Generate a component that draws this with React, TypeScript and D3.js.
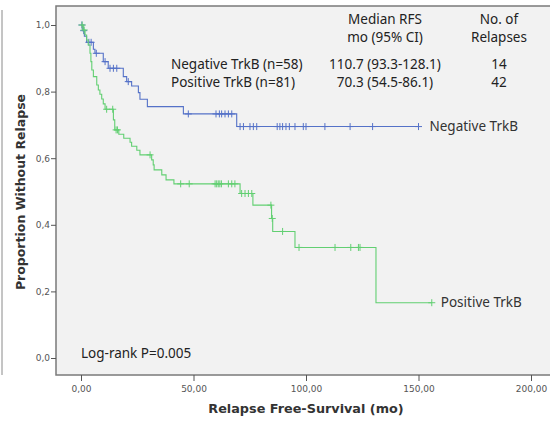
import React, { useEffect, useRef } from "react";
import * as d3 from "d3";

// Kaplan-Meier steps: time (mo) of each drop and survival after it
const negStepTimes = [0.8, 1.5, 2.5, 5.5, 6.2, 9.9, 12.1, 18.8, 20.3, 22.5, 25.5, 26.2, 29.5, 45.5, 69.2];
const negStepSurv = [0.983, 0.966, 0.948, 0.927, 0.915, 0.89, 0.87, 0.845, 0.83, 0.817, 0.797, 0.777, 0.755, 0.733, 0.695];
const negEnd = 150;
const negCensor = [0.4, 1.2, 3.5, 4.5, 6.8, 10.7, 12.9, 14.4, 15.9, 21, 47.7, 60, 61.5, 62.5, 64, 65.5, 67,
  70.7, 72.2, 75.1, 76.6, 78.1, 87.2, 88.4, 89.6, 91.1, 92.6, 95.1, 98.8, 100, 108.4, 119.6, 129.6, 150];

const posStepTimes = [1, 1.8, 2.5, 3.2, 4, 4.4, 4.8, 5.5, 7, 7.7, 8.4, 9.2, 9.9, 10.7, 14.4, 15, 16.8, 19, 21.8,
  22.5, 24.8, 26.2, 31.4, 32.1, 32.5, 35.9, 37.8, 41.3, 70.7, 76.4, 84.7, 85.2, 95.1, 131.1];
const posStepSurv = [0.985, 0.97, 0.955, 0.94, 0.915, 0.89, 0.865, 0.845, 0.82, 0.805, 0.792, 0.778, 0.763, 0.747,
  0.715, 0.685, 0.672, 0.66, 0.648, 0.636, 0.624, 0.61, 0.595, 0.58, 0.565, 0.55, 0.535, 0.523, 0.494, 0.459,
  0.419, 0.38, 0.332, 0.166];
const posEnd = 155.9;
const posCensor = [0.5, 1.4, 11.4, 14.1, 15.6, 16.2, 30.7, 44.3, 48.1, 59.6, 60.3, 61, 61.7, 62.4, 65.5, 67, 68.4,
  71.4, 72.9, 74.4, 75.9, 84.4, 85, 89.6, 96.9, 112.9, 119.9, 123.3, 124, 155.9];

const xTicks = [0, 50, 100, 150, 200];
const yTicks = [0, 0.2, 0.4, 0.6, 0.8, 1.0];

const tableHeader = [["Median RFS", "mo (95% CI)"], ["No. of", "Relapses"]];
const tableRows = [
  ["Negative TrkB (n=58)", "110.7 (93.3-128.1)", "14"],
  ["Positive TrkB (n=81)", "70.3 (54.5-86.1)", "42"],
];

const BLUE = "#5572c8";
const GREEN = "#62cf72";

function survAt(times: number[], surv: number[], t: number) {
  let s = 1;
  for (let i = 0; i < times.length; i++) {
    if (times[i] <= t) s = surv[i];
  }
  return s;
}

export default function App() {
  const svgRef = useRef<SVGSVGElement>(null);

  useEffect(() => {
    const svg = d3.select(svgRef.current);
    svg.selectAll("*").remove();

    const width = 550;
    const height = 421;
    const frame = { left: 56, top: 6, bottom: 375 };

    const x = d3.scaleLinear().domain([0, 200]).range([81, 531]);
    const y = d3.scaleLinear().domain([0, 1]).range([358, 25]);

    svg.attr("width", width).attr("height", height);

    svg.append("rect").attr("width", width).attr("height", height).attr("fill", "#fff");

    // outer left border
    svg.append("line")
      .attr("x1", 2).attr("x2", 2).attr("y1", 10).attr("y2", 375)
      .attr("stroke", "#8a8a8a").attr("stroke-width", 1);

    // plot area
    svg.append("rect")
      .attr("x", frame.left).attr("y", frame.top)
      .attr("width", width - frame.left + 5).attr("height", frame.bottom - frame.top)
      .attr("fill", "#f2f2f2")
      .attr("stroke", "#7a7a7a").attr("stroke-width", 1.5);

    const fmtX = (d: number) => d.toFixed(2).replace(".", ",");
    const fmtY = (d: number) => d.toFixed(1).replace(".", ",");

    const xAxis = svg.append("g")
      .attr("transform", `translate(0, ${frame.bottom})`)
      .call(d3.axisBottom(x).tickValues(xTicks).tickSize(6).tickFormat(d => fmtX(+d)));
    xAxis.select(".domain").remove();
    xAxis.selectAll("line").attr("stroke", "#555");
    xAxis.selectAll("text")
      .attr("fill", "#555").attr("dy", "0.9em")
      .style("font-family", "DejaVu Sans").style("font-size", "9px");

    const yAxis = svg.append("g")
      .attr("transform", `translate(${frame.left}, 0)`)
      .call(d3.axisLeft(y).tickValues(yTicks).tickSize(5).tickFormat(d => fmtY(+d)));
    yAxis.select(".domain").remove();
    yAxis.selectAll("line").attr("stroke", "#555");
    yAxis.selectAll("text")
      .attr("fill", "#555").attr("x", -6)
      .style("font-family", "DejaVu Sans").style("font-size", "9px");

    // curves
    const line = d3.line<[number, number]>()
      .x(d => x(d[0]))
      .y(d => y(d[1]))
      .curve(d3.curveStepAfter);

    const drawCurve = (times: number[], surv: number[], end: number, censor: number[], color: string) => {
      const pts: [number, number][] = [[0, 1]];
      times.forEach((t, i) => pts.push([t, surv[i]]));
      pts.push([end, surv[surv.length - 1]]);
      svg.append("path")
        .attr("d", line(pts))
        .attr("fill", "none")
        .attr("stroke", color)
        .attr("stroke-width", 1.1);

      const g = svg.append("g").attr("stroke", color).attr("stroke-width", 1);
      censor.forEach(t => {
        const cx = x(t);
        const cy = y(survAt(times, surv, t));
        g.append("line").attr("x1", cx - 3.5).attr("x2", cx + 3.5).attr("y1", cy).attr("y2", cy);
        g.append("line").attr("x1", cx).attr("x2", cx).attr("y1", cy - 3.5).attr("y2", cy + 3.5);
      });
    };

    drawCurve(negStepTimes, negStepSurv, negEnd, negCensor, BLUE);
    drawCurve(posStepTimes, posStepSurv, posEnd, posCensor, GREEN);

    const font = "Noto Sans";
    const fs = "13.5px";

    svg.append("text")
      .attr("x", x(negEnd) + 11).attr("y", y(negStepSurv[negStepSurv.length - 1]) + 4)
      .attr("fill", "#333").style("font-family", font).style("font-size", fs)
      .text("Negative TrkB");

    svg.append("text")
      .attr("x", x(posEnd) + 9).attr("y", y(posStepSurv[posStepSurv.length - 1]) + 4)
      .attr("fill", "#333").style("font-family", font).style("font-size", fs)
      .text("Positive TrkB");

    // table
    const colX = [171, 385, 499];
    const headY = [24, 42];
    const rowY = [69, 87];
    tableHeader.forEach((lines, c) => {
      lines.forEach((t, i) => {
        svg.append("text")
          .attr("x", colX[c + 1]).attr("y", headY[i])
          .attr("text-anchor", "middle")
          .attr("fill", "#222").style("font-family", font).style("font-size", fs)
          .text(t);
      });
    });
    tableRows.forEach((row, r) => {
      row.forEach((t, c) => {
        svg.append("text")
          .attr("x", colX[c]).attr("y", rowY[r])
          .attr("text-anchor", c === 0 ? "start" : "middle")
          .attr("fill", "#222").style("font-family", font).style("font-size", fs)
          .text(t);
      });
    });

    svg.append("text")
      .attr("x", 81).attr("y", 358)
      .attr("fill", "#222").style("font-family", font).style("font-size", fs)
      .text("Log-rank P=0.005");

    // axis titles
    svg.append("text")
      .attr("x", 306).attr("y", 413)
      .attr("text-anchor", "middle")
      .attr("fill", "#333").style("font-family", "DejaVu Sans").style("font-weight", "bold").style("font-size", "12.8px")
      .text("Relapse Free-Survival (mo)");

    svg.append("text")
      .attr("transform", "rotate(-90)")
      .attr("x", -192).attr("y", 25)
      .attr("text-anchor", "middle")
      .attr("fill", "#333").style("font-family", "DejaVu Sans").style("font-weight", "bold").style("font-size", "12.5px")
      .text("Proportion Without Relapse");
  }, []);

  return <svg ref={svgRef} style={{ position: "absolute", left: 0, top: 0 }}></svg>;
}
